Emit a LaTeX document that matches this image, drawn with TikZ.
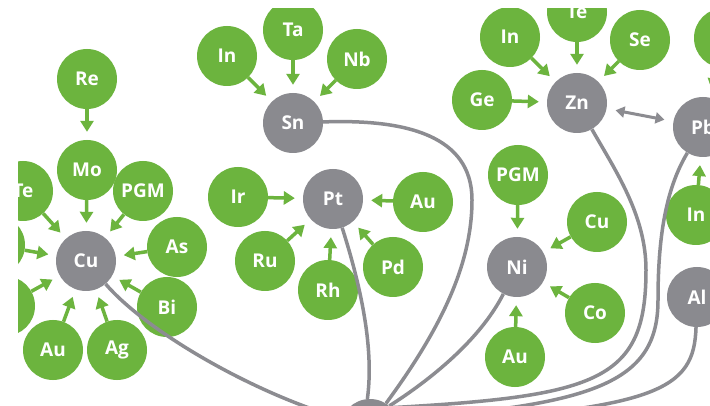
\documentclass[tikz,border=0pt]{standalone}
\usepackage{fontspec}
\newfontfamily\labfont{Open Sans}
\usetikzlibrary{arrows.meta}
\definecolor{leaf}{RGB}{108,180,62}
\definecolor{hubgray}{RGB}{138,138,143}
\definecolor{linegray}{RGB}{140,140,145}
\begin{document}
\begin{tikzpicture}[x=1pt,y=-1pt,
  sat/.style={circle,fill=leaf,minimum size=60pt,inner sep=0pt,text=white,
    font=\labfont\bfseries\fontsize{19}{19}\selectfont},
  hubnode/.style={sat,fill=hubgray},
  garrow/.style={draw=leaf,line width=3.5pt,-{Triangle[length=11pt,width=13pt]},shorten >=8pt},
  link/.style={draw=linegray,line width=3.5pt},
  darrow/.style={draw=linegray,line width=3pt,
    {Triangle[length=9pt,width=11pt]}-{Triangle[length=9pt,width=11pt]},
    shorten >=9pt,shorten <=9pt}]
\useasboundingbox (0,0) rectangle (710,406);
\fill[white] (0,0) rectangle (710,406);
\begin{scope}
\clip (18,9) rectangle (710,406);
% Cu group
\node[sat] (re) at (87,79) {Re};
\node[sat] (mo) at (87,170) {Mo};
\node[sat] (teL) at (23,191) {Te};
\node[sat] (pgmL) at (143,191) {PGM};
\node[sat] (l1) at (-5,245) {};
\node[sat] (l2) at (5,306) {};
\node[sat] (as) at (177,247) {As};
\node[sat] (bi) at (167,307) {Bi};
\node[sat] (auL) at (53,350) {Au};
\node[sat] (ag) at (117,350) {Ag};
\node[hubnode] (cu) at (86,261) {Cu};
% Sn group
\node[sat] (inS) at (227,56) {In};
\node[sat] (ta) at (293,30) {Ta};
\node[sat] (nb) at (357,59) {Nb};
\node[hubnode] (sn) at (293,123) {Sn};
% Pt group
\node[sat] (ir) at (238,197) {Ir};
\node[sat] (auP) at (423,202) {Au};
\node[sat] (ru) at (265,261) {Ru};
\node[sat] (rh) at (328,290) {Rh};
\node[sat] (pd) at (393,267) {Pd};
\node[hubnode] (pt) at (333,199) {Pt};
% Zn group
\node[sat] (inZ) at (510,37) {In};
\node[sat] (teZ) at (577,12) {Te};
\node[sat] (se) at (640,40) {Se};
\node[sat] (ge) at (482,100) {Ge};
\node[hubnode] (zn) at (577,103) {Zn};
% Pb group
\node[sat] (tr) at (724,38) {};
\node[hubnode] (pb) at (703,127) {Pb};
\node[sat] (inP) at (696,215) {In};
\node[hubnode] (al) at (697,297) {Al};
% Ni group
\node[sat] (pgmN) at (518,175) {PGM};
\node[sat] (cuN) at (597,222) {Cu};
\node[sat] (co) at (595,313) {Co};
\node[sat] (auN) at (515,357) {Au};
\node[hubnode] (ni) at (517,267) {Ni};
% base hub
\node[hubnode] (base) at (370,429) {};
% waypoints
\coordinate (snA) at (472,200);
\coordinate (znA) at (646,270);
\coordinate (pbA) at (658,300);
% links
\draw[link] (cu) .. controls (145,330) and (250,392) .. (base.160);
\draw[link] (sn) .. controls (405,119) and (472,135) .. (snA) .. controls (472,265) and (440,330) .. (base.58);
\draw[link] (pt) .. controls (362,290) and (374,350) .. (base.95);
\draw[link] (ni) .. controls (480,340) and (430,380) .. (base.50);
\draw[link] (zn) .. controls (615,170) and (646,215) .. (znA) .. controls (646,380) and (600,396) .. (base.45);
\draw[link] (pb) .. controls (665,190) and (658,240) .. (pbA) .. controls (658,380) and (600,405) .. (base.20);
\draw[link] (al) .. controls (694,390) and (660,410) .. (base.10);
\draw[darrow] (zn) -- (pb);
% arrows
\foreach \s/\t in {re/mo,mo/cu,teL/cu,pgmL/cu,l1/cu,l2/cu,as/cu,bi/cu,auL/cu,ag/cu,
  inS/sn,ta/sn,nb/sn,ir/pt,auP/pt,ru/pt,rh/pt,pd/pt,
  inZ/zn,teZ/zn,se/zn,ge/zn,tr/pb,inP/pb,pgmN/ni,cuN/ni,co/ni,auN/ni}
  \draw[garrow] (\s) -- (\t);
\end{scope}
\end{tikzpicture}
\end{document}
